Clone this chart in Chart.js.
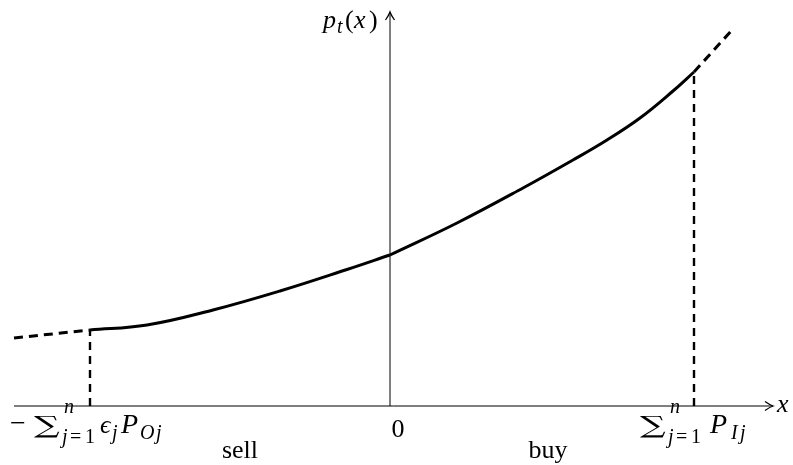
<!DOCTYPE html>
<html>
<head>
<meta charset="utf-8">
<script src="https://cdn.jsdelivr.net/npm/chart.js@4/dist/chart.umd.min.js"></script>
<style>
  html, body { margin: 0; padding: 0; background: #fff; }
  #plot { display: block; }
</style>
</head>
<body>
<canvas id="plot" width="793" height="465"></canvas>
<script>
"use strict";

// axis extents (data units)
var xAxisEnds = [-3.76, 3.83];
var yAxisEnds = [0, 3.94];

// price curve, sell side (x < 0) and buy side (x > 0)
var sellX = [-3.00, -2.43, -1.77, -1.10, -0.43, 0];
var sellY = [0.76, 0.81, 0.96, 1.15, 1.365, 1.51];
var buyX = [0, 0.67, 1.33, 1.83, 2.17, 2.50, 2.83, 3.04];
var buyY = [1.51, 1.83, 2.18, 2.46, 2.66, 2.88, 3.15, 3.34];

// dashed continuations beyond the limits
var leftExtX = [-3.76, -3.00];
var leftExtY = [0.68, 0.76];
var rightExtX = [3.04, 3.42];
var rightExtY = [3.34, 3.76];

// limits marked on the x axis
var limitX = [-3.00, 3.04];
var limitY = [0.76, 3.34];

// text
var originLabel = "0";
var xAxisLabel = "x";
var sideLabels = ["sell", "buy"];
var sideLabelX = [-1.50, 1.58];

function pts(xs, ys) {
  return xs.map(function(x, i) { return { x: x, y: ys[i] }; });
}

function line(data, width, dash, smooth) {
  return {
    data: data,
    showLine: true,
    borderColor: "#000",
    borderWidth: width,
    borderDash: dash || [],
    borderCapStyle: "butt",
    borderJoinStyle: "round",
    pointRadius: 0,
    pointHoverRadius: 0,
    fill: false,
    tension: smooth ? 0.4 : 0
  };
}

var serif = "'Liberation Serif', 'DejaVu Serif', serif";
function f(size, italic) {
  return (italic ? "italic " : "") + size + "px " + serif;
}

// pieces placed at offsets from an anchor; sx stretches a glyph sideways
function place(ctx, x, y, pieces) {
  pieces.forEach(function(p) {
    ctx.save();
    ctx.font = p.font;
    ctx.translate(x + p.dx, y + (p.dy || 0));
    if (p.sx) ctx.scale(p.sx, 1);
    ctx.fillText(p.t, 0, 0);
    ctx.restore();
  });
}

function arrowHead(ctx, x, y, angle) {
  ctx.save();
  ctx.translate(x, y);
  ctx.rotate(angle);
  ctx.beginPath();
  ctx.moveTo(-8, -4.5);
  ctx.quadraticCurveTo(-3, -1, 0, 0);
  ctx.quadraticCurveTo(-3, 1, -8, 4.5);
  ctx.lineWidth = 1.3;
  ctx.strokeStyle = "#000";
  ctx.stroke();
  ctx.restore();
}

var decorations = {
  id: "decorations",
  afterDatasetsDraw: function(chart) {
    var ctx = chart.ctx;
    var xs = chart.scales.x, ys = chart.scales.y;
    var px = function(v) { return xs.getPixelForValue(v); };
    var py = function(v) { return ys.getPixelForValue(v); };

    arrowHead(ctx, px(xAxisEnds[1]), py(0), 0);
    arrowHead(ctx, px(0), py(yAxisEnds[1]), -Math.PI / 2);

    ctx.save();
    ctx.fillStyle = "#000";
    ctx.textBaseline = "alphabetic";
    ctx.textAlign = "left";
    var big = 26, small = 20;
    var sigma = "24px 'DejaVu Serif', serif";

    // y axis label p_t(x)
    place(ctx, px(0) - 67, py(yAxisEnds[1]) + 16, [
      { t: "p", font: f(big, true), dx: 0 },
      { t: "t", font: f(small, true), dx: 14, dy: 5 },
      { t: "(", font: f(big, false), dx: 22 },
      { t: "x", font: f(big, true), dx: 31 },
      { t: ")", font: f(big, false), dx: 46 }
    ]);

    // x axis label
    place(ctx, px(xAxisEnds[1]) + 4, py(0) + 6, [{ t: xAxisLabel, font: f(big, true), dx: 0 }]);

    // origin and sides
    ctx.textAlign = "center";
    ctx.font = f(big, false);
    ctx.fillText(originLabel, px(0) + 8, py(0) + 31);
    sideLabels.forEach(function(s, i) {
      ctx.fillText(s, px(sideLabelX[i]), py(0) + 52);
    });
    ctx.textAlign = "left";

    var base = py(0) + 27;
    // left limit label
    place(ctx, px(limitX[0]) - 80, base, [
      { t: "\u2212", font: f(28, false), dx: 0, dy: -1 },
      { t: "\u2211", font: sigma, dx: 24, dy: 0, sx: 1.5 },
      { t: "n", font: f(small, true), dx: 54, dy: -20 },
      { t: "j", font: f(small, true), dx: 52, dy: 10 },
      { t: "=", font: f(small, false), dx: 60, dy: 10 },
      { t: "1", font: f(small, false), dx: 75, dy: 10 },
      { t: "\u03f5", font: f(big, true), dx: 90 },
      { t: "j", font: f(small, true), dx: 102, dy: 6 },
      { t: "P", font: f(28, true), dx: 111 },
      { t: "O", font: f(small, true), dx: 130, dy: 6 },
      { t: "j", font: f(small, true), dx: 146, dy: 6 }
    ]);

    // right limit label
    place(ctx, px(limitX[1]) - 54, base, [
      { t: "\u2211", font: sigma, dx: 0, dy: 0, sx: 1.5 },
      { t: "n", font: f(small, true), dx: 30, dy: -20 },
      { t: "j", font: f(small, true), dx: 28, dy: 10 },
      { t: "=", font: f(small, false), dx: 36, dy: 10 },
      { t: "1", font: f(small, false), dx: 51, dy: 10 },
      { t: "P", font: f(28, true), dx: 70 },
      { t: "I", font: f(small, true), dx: 91, dy: 6 },
      { t: "j", font: f(small, true), dx: 100, dy: 6 }
    ]);
    ctx.restore();
  }
};

new Chart(document.getElementById("plot"), {
  type: "scatter",
  data: {
    datasets: [
      line(pts(xAxisEnds, [0, 0]), 1),
      line(pts([0, 0], yAxisEnds), 1),
      line(pts([limitX[0], limitX[0]], [0, limitY[0]]), 2.4, [8, 6]),
      line(pts([limitX[1], limitX[1]], [0, limitY[1]]), 2.4, [8, 6]),
      line(pts(leftExtX, leftExtY), 3, [9, 6]),
      line(pts(sellX, sellY), 3, null, true),
      line(pts(buyX, buyY), 3, null, true),
      line(pts(rightExtX, rightExtY), 3, [9, 6])
    ]
  },
  options: {
    responsive: false,
    animation: false,
    events: [],
    layout: { padding: 0 },
    plugins: { legend: { display: false }, tooltip: { enabled: false } },
    scales: {
      x: { type: "linear", min: -3.90, max: 4.03, display: false },
      y: { type: "linear", min: -0.59, max: 4.06, display: false }
    }
  },
  plugins: [decorations]
});
</script>
</body>
</html>
